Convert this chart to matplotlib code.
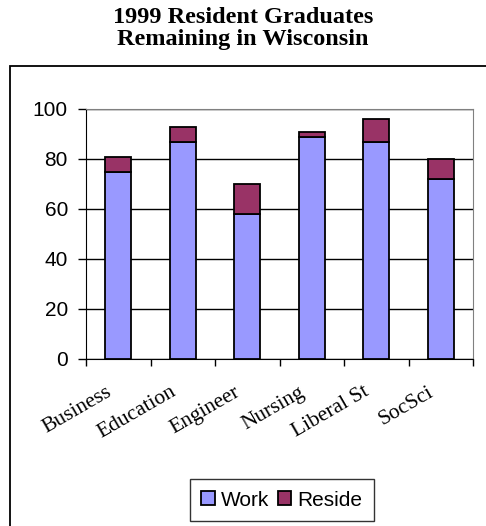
import matplotlib
matplotlib.use("Agg")
import matplotlib.pyplot as plt
from matplotlib.patches import Rectangle
from matplotlib.transforms import ScaledTranslation
import numpy as np

categories = ["Business", "Education", "Engineer", "Nursing", "Liberal St", "SocSci"]
work = [75, 87, 58, 89, 87, 72]
reside = [6, 6, 12, 2, 9, 8]
yticks = [0, 20, 40, 60, 80, 100]

fig = plt.figure(figsize=(4.86, 5.26), dpi=100)
fig.patch.set_facecolor("white")

# outer chart frame (only left and top visible in the picture)
fig.patches.append(Rectangle((10 / 486, -0.1), 1.2, 1 - 66 / 526 + 0.1,
                             transform=fig.transFigure, fill=False,
                             edgecolor="black", linewidth=1.3))

fig.text(0.5, 0.987, "1999 Resident Graduates\nRemaining in Wisconsin",
         ha="center", va="top", fontsize=17.5, fontweight="bold",
         family="Liberation Serif", linespacing=1.05)

ax = fig.add_axes([86 / 486, 1 - 359 / 526, (473 - 86) / 486, 250 / 526])
x = np.arange(len(categories))
ax.bar(x, work, width=0.4, color="#9999FF", edgecolor="black", linewidth=1.3,
       label="Work", zorder=3)
ax.bar(x, reside, width=0.4, bottom=work, color="#993366", edgecolor="black",
       linewidth=1.3, label="Reside", zorder=3)

ax.set_xlim(-0.5, len(categories) - 0.5)
ax.set_ylim(0, 100)
ax.set_yticks(yticks)
ax.set_yticklabels([str(v) for v in yticks], family="Liberation Sans", fontsize=15)
ax.yaxis.grid(True, color="black", linewidth=1.0, zorder=0)
ax.tick_params(axis="y", length=6, width=1, direction="out", pad=7)

# x ticks sit between categories, labels at category centres
ax.set_xticks(np.arange(-0.5, len(categories), 1.0))
ax.set_xticklabels([])
ax.set_xticks(x, minor=True)
ax.set_xticklabels(categories, minor=True, rotation=30, ha="right",
                   rotation_mode="anchor", family="Liberation Serif", fontsize=15.5)
ax.tick_params(axis="x", which="major", length=5, width=1, direction="out")
ax.tick_params(axis="x", which="minor", length=0, pad=17)
shift = ScaledTranslation(-13 / 100, 0, fig.dpi_scale_trans)
for lbl in ax.get_xticklabels(minor=True):
    lbl.set_transform(lbl.get_transform() + shift)

for side in ["top", "right"]:
    ax.spines[side].set_color("#808080")
ax.spines["left"].set_color("black")
ax.spines["bottom"].set_color("black")

leg = fig.legend(loc="center", bbox_to_anchor=(282 / 486, 1 - 500 / 526), ncol=2,
                 prop={"family": "Liberation Sans", "size": 15}, frameon=True,
                 fancybox=False, edgecolor="black", handlelength=0.65,
                 handleheight=0.65, handletextpad=0.3, columnspacing=0.4,
                 borderpad=0.55, borderaxespad=0)
leg.get_frame().set_linewidth(1.0)

fig.savefig("out.png", dpi=100, facecolor="white")
